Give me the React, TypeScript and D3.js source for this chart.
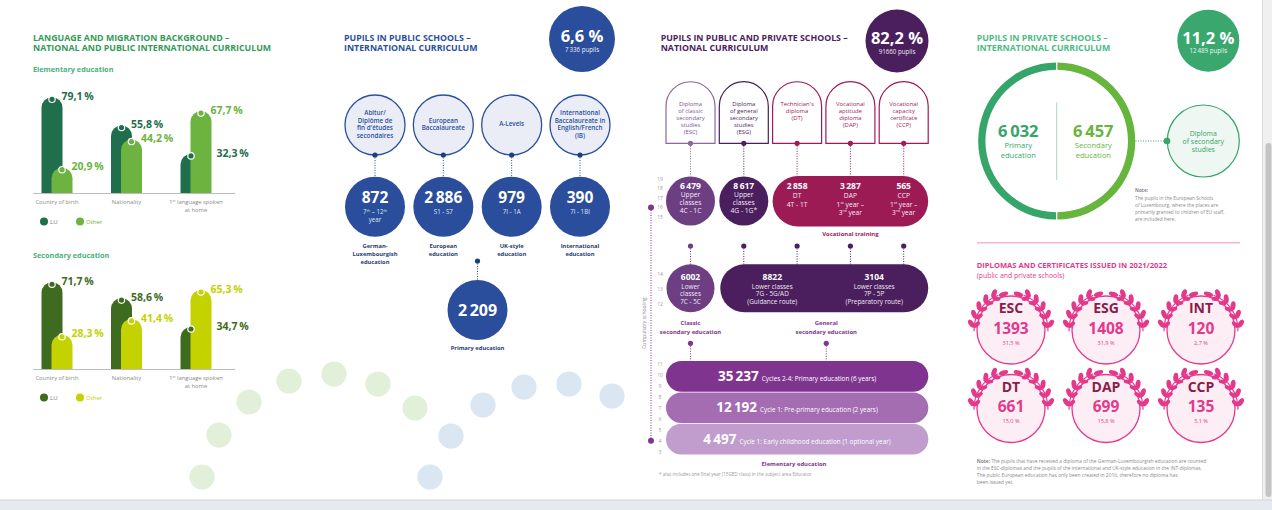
import React from "react";
import * as d3 from "d3";

const W = 1272;
const H = 510;
const FONT = "'Open Sans', 'DejaVu Sans', sans-serif";
const fmt = d3.formatLocale({ decimal: ",", thousands: "\u2009", grouping: [3], currency: ["", ""] }).format(",d");

// ---------- Left panel: language & migration background ----------
const barCategories = ["Country of birth", "Nationality", "1st language spoken at home"];
const barCategoryLines = [["Country of birth"], ["Nationality"], ["1^st language spoken", "at home"]];
const seriesNames = ["LU", "Other"];
const elemLU = [79.1, 55.8, 32.3];
const elemOther = [20.9, 44.2, 67.7];
const secLU = [71.7, 58.6, 34.7];
const secOther = [28.3, 41.4, 65.3];

// ---------- International curriculum (public) ----------
const intlShare = "6,6 %";
const intlTotal = 7336;
const intlDiplomas = [
  ["Abitur/", "Diplôme de", "fin d'études", "secondaires"],
  ["European", "Baccalaureate"],
  ["A-Levels"],
  ["International", "Baccalaureate in", "English/French", "(IB)"],
];
const intlPupils = [872, 2886, 979, 390];
const intlYears = [["7^th – 12^th", "year"], ["S1 - S7"], ["7I - 1A"], ["7I - 1BI"]];
const intlTracks = [
  ["German-", "Luxembourgish", "education"],
  ["European", "education"],
  ["UK-style", "education"],
  ["International", "education"],
];
const intlPrimary = 2209;

// ---------- National curriculum ----------
const natShare = "82,2 %";
const natTotal = "91660";
const natDiplomas = [
  ["Diploma", "of classic", "secondary", "studies", "(ESC)"],
  ["Diploma", "of general", "secondary", "studies", "(ESG)"],
  ["Technician's", "diploma", "(DT)"],
  ["Vocational", "aptitude", "diploma", "(DAP)"],
  ["Vocational", "capacity", "certificate", "(CCP)"],
];
const natUpper = [6479, 8617, 2858, 3287, 565];
const natUpperSub = [
  ["Upper", "classes", "4C - 1C"],
  ["Upper", "classes", "4G - 1G*"],
  ["DT", "4T - 1T"],
  ["DAP", "1^st year –", "3^rd year"],
  ["CCP", "1^st year –", "3^rd year"],
];
const natLower = ["6002", "8822", "3104"];
const natLowerSub = [
  ["Lower", "classes", "7C - 5C"],
  ["Lower classes", "7G - 5G/AD", "(Guidance route)"],
  ["Lower classes", "7P - 5P", "(Preparatory route)"],
];
const natElem = [35237, 12192, 4497];
const natElemLabels = [
  "Cycles 2-4: Primary education (6 years)",
  "Cycle 1: Pre-primary education (2 years)",
  "Cycle 1: Early childhood education (1 optional year)",
];
const agesUpper = [19, 18, 17, 16, 15];
const agesLower = [14, 13, 12];
const agesElem = [11, 10, 9, 8, 7, 6, 5, 4, 3];

// ---------- Private schools ----------
const privShare = "11,2 %";
const privTotal = 12489;
const privPupils = [6032, 6457];
const privLabels = [["Primary", "education"], ["Secondary", "education"]];

// ---------- Diplomas 2021/2022 ----------
const dipCodes = ["ESC", "ESG", "INT", "DT", "DAP", "CCP"];
const dipCounts = ["1393", "1408", "120", "661", "699", "135"];
const dipShares = ["31,5 %", "31,9 %", "2,7 %", "15,0 %", "15,8 %", "3,1 %"];

// decorative dots
const decorGreen = [[202, 477], [219, 435], [249, 402], [289, 381], [334, 374], [378, 384], [415, 408]];
const decorBlue = [[430, 477], [451, 436], [483, 405], [524, 387], [569, 384], [612, 396]];

function sup(s: string, fs: number) {
  if (!s.includes("^")) return s;
  const parts = s.split(/\^([a-z]+)/);
  return parts.map((p, i) =>
    i % 2 ? (
      <tspan key={i} dy={-fs * 0.35} fontSize={fs * 0.6}>{p}</tspan>
    ) : (
      <tspan key={i} dy={i ? fs * 0.35 : 0}>{p}</tspan>
    )
  );
}

function Lines({ x, y, lines, lh, fs, fill, fw = 400, anchor = "middle" }: any) {
  return (
    <text fontSize={fs} fill={fill} fontWeight={fw} textAnchor={anchor}>
      {lines.map((l: string, i: number) => (
        <tspan key={i} x={x} y={y + i * lh + fs * 0.36}>{sup(l, fs)}</tspan>
      ))}
    </text>
  );
}

function domePath(x0: number, w: number, top: number, bottom: number) {
  const r = w / 2;
  return `M${x0},${bottom}V${top + r}A${r},${r} 0 0 1 ${x0 + w},${top + r}V${bottom}Z`;
}

function BarBlock({ subtitle, subY, baseline, lu, other, cLU, cOther, subColor }: any) {
  const x = d3.scalePoint<string>().domain(barCategories).range([57, 196]);
  const y = d3.scaleLinear().domain([0, 100]).range([baseline, baseline - 121]);
  const bw = 21;
  const off = 5;
  const series = [
    { vals: lu, c: cLU, dx: -off },
    { vals: other, c: cOther, dx: off },
  ];
  return (
    <g>
      <text x={33} y={subY + 2.6} fontSize={7.3} fontWeight={700} fill={subColor}>{subtitle}</text>
      {series.map((s, si) =>
        barCategories.map((cat, i) => {
          const cx = (x(cat) as number) + s.dx;
          return <path key={si + "-" + i} d={domePath(cx - bw / 2, bw, y(s.vals[i]), baseline)} fill={s.c} />;
        })
      )}
      {series.map((s, si) =>
        barCategories.map((cat, i) => {
          const cx = (x(cat) as number) + s.dx;
          return <circle key={"d" + si + i} cx={cx} cy={y(s.vals[i]) + 2} r={3.2} fill={s.c} stroke="#fff" strokeWidth={1.2} />;
        })
      )}
      {series.map((s, si) =>
        barCategories.map((cat, i) => {
          const cx = (x(cat) as number) + s.dx;
          let lx = cx + bw / 2 - 1;
          if (si === 0 && lu[i] < other[i]) lx = (x(cat) as number) + off + bw / 2 + 5;
          const ly = y(s.vals[i]) - 1;
          return (
            <text key={"l" + si + i} x={lx} y={ly + 3.7} fontSize={10.5} fontWeight={700} fill={s.c}>
              {d3.format(".1f")(s.vals[i]).replace(".", ",") + "\u2009%"}
            </text>
          );
        })
      )}
      <line x1={33} x2={235} y1={baseline + 0.5} y2={baseline + 0.5} stroke="#bdbdbd" strokeWidth={1} />
      {barCategories.map((cat, i) => (
        <Lines key={"c" + i} x={x(cat)} y={baseline + 8.7} lines={barCategoryLines[i]} lh={8.3} fs={5.8} fill="#8a8a8a" />
      ))}
      {seriesNames.map((n, i) => (
        <g key={n}>
          <circle cx={44 + i * 36} cy={baseline + 28.5} r={4} fill={i ? cOther : cLU} />
          <text x={50 + i * 36} y={baseline + 30.6} fontSize={6} fill={i ? cOther : "#777"}>{n}</text>
        </g>
      ))}
    </g>
  );
}

function LeftPanel() {
  const tc = "#349a58";
  return (
    <g>
      <text x={33} y={40.7} fontSize={8.8} fontWeight={700} fill={tc}>LANGUAGE AND MIGRATION BACKGROUND –</text>
      <text x={33} y={51.3} fontSize={8.8} fontWeight={700} fill={tc}>NATIONAL AND PUBLIC INTERNATIONAL CURRICULUM</text>
      <BarBlock subtitle="Elementary education" subY={69} baseline={193} lu={elemLU} other={elemOther} cLU="#1f6e4c" cOther="#6cb33f" subColor="#4cb07c" />
      <BarBlock subtitle="Secondary education" subY={255} baseline={369} lu={secLU} other={secOther} cLU="#3e6b1f" cOther="#c4d300" subColor="#4cb07c" />
    </g>
  );
}

function Headline({ cx, cy, r, fill, big, small }: any) {
  return (
    <g>
      <circle cx={cx} cy={cy} r={r} fill={fill} />
      <text x={cx} y={cy + 3} textAnchor="middle" fontSize={16.5} fontWeight={700} fill="#fff">{big}</text>
      <text x={cx} y={cy + 12.5} textAnchor="middle" fontSize={6.2} fill="#fff" opacity={0.9}>{small}</text>
    </g>
  );
}

function IntlPanel() {
  const blue = "#2b4f9e";
  const dark = "#1f3c7c";
  const cols = d3.scalePoint<number>().domain(d3.range(4)).range([375, 580]);
  const topY = 125, botY = 206.7, r = 30;
  const primX = ((cols(1) as number) + (cols(2) as number)) / 2;
  return (
    <g>
      <text x={344} y={40.7} fontSize={8.8} fontWeight={700} fill={blue}>PUPILS IN PUBLIC SCHOOLS –</text>
      <text x={344} y={51.3} fontSize={8.8} fontWeight={700} fill={blue}>INTERNATIONAL CURRICULUM</text>
      <Headline cx={582} cy={39} r={33} fill="#2a4e9b" big={intlShare} small={fmt(intlTotal) + " pupils"} />
      {intlDiplomas.map((d, i) => {
        const cx = cols(i) as number;
        return (
          <g key={i}>
            <line x1={cx} x2={cx} y1={topY + r} y2={botY - r} stroke={blue} strokeWidth={1} strokeDasharray="1,1.5" />
            <circle cx={cx} cy={topY} r={r} fill="#eaedf6" stroke={blue} strokeWidth={1.3} />
            <Lines x={cx} y={topY - (d.length - 1) * 3.75 - 0.8} lines={d} lh={7.5} fs={6.3} fw={600} fill={blue} />
            <circle cx={cx} cy={topY + r} r={2.6} fill={dark} />
            <circle cx={cx} cy={botY} r={r} fill="#2a4e9b" />
            <text x={cx} y={botY - 3.4} textAnchor="middle" fontSize={15.5} fontWeight={700} fill="#fff">{fmt(intlPupils[i])}</text>
            <Lines x={cx} y={botY + 5} lines={intlYears[i]} lh={8.3} fs={6.2} fill="#dfe6f5" />
            <Lines x={cx} y={245.7} lines={intlTracks[i]} lh={8.3} fs={5.8} fw={700} fill={dark} />
          </g>
        );
      })}
      <line x1={primX} x2={primX} y1={261} y2={280} stroke={blue} strokeWidth={1} strokeDasharray="1,1.5" />
      <circle cx={primX} cy={261} r={2.6} fill={dark} />
      <circle cx={primX} cy={310} r={r} fill="#2a4e9b" />
      <text x={primX} y={315.7} textAnchor="middle" fontSize={16} fontWeight={700} fill="#fff">{fmt(intlPrimary)}</text>
      <text x={primX} y={349.8} textAnchor="middle" fontSize={5.8} fontWeight={700} fill={dark}>Primary education</text>
    </g>
  );
}

function NatPanel() {
  const titleC = "#4a2161";
  const cols = d3.scalePoint<number>().domain(d3.range(5)).range([690.5, 903.7]);
  const aw = 49;
  const archStroke = ["#8a68a0", "#4b1f5e", "#a0195a", "#a0195a", "#a0195a"];
  const archText = ["#7a5594", "#4b1f5e", "#a0195a", "#a0195a", "#a0195a"];
  const upperFill = ["#6d3f82", "#4b1f5e"];
  const pillFill = "#9c1b55";
  const lowerPurple = "#4b1f5e";
  const upY = 201, upR = 24.5;
  const pillX0 = (cols(2) as number) - aw / 2, pillX1 = (cols(4) as number) + aw / 2;
  const lowY = 288.3;
  const lowPillX0 = (cols(1) as number) - 23.5;
  const lowPillX1 = pillX1;
  const band = d3.scaleBand<number>().domain(d3.range(3)).range([361, 454.5]).paddingInner(0.02);
  const elemFills = ["#7f3590", "#a46cb1", "#c09dcc"];
  const ageUp = d3.scaleLinear().domain([19, 15]).range([179, 217]);
  const ageLo = d3.scaleLinear().domain([14, 12]).range([274.3, 304.3]);
  const ageEl = d3.scaleLinear().domain([11, 3]).range([364.3, 451.7]);
  const ageX = 660;
  return (
    <g>
      <text x={660.7} y={40.7} fontSize={8.8} fontWeight={700} fill={titleC}>PUPILS IN PUBLIC AND PRIVATE SCHOOLS –</text>
      <text x={660.7} y={51.3} fontSize={8.8} fontWeight={700} fill={titleC}>NATIONAL CURRICULUM</text>
      <Headline cx={897} cy={41} r={31.5} fill="#4b1f5e" big={natShare} small={natTotal + " pupils"} />

      {/* age axis */}
      <line x1={651} x2={651} y1={ageUp(16)} y2={ageEl(4)} stroke="#7f3590" strokeWidth={1} strokeDasharray="1,1.5" />
      <circle cx={651} cy={ageUp(16)} r={3} fill="#7f3590" />
      <circle cx={651} cy={ageEl(4)} r={3} fill="#7f3590" />
      <text transform="translate(646,323) rotate(-90)" textAnchor="middle" fontSize={5} fill="#8a8a8a">Compulsory schooling</text>
      {agesUpper.map((a) => <text key={"u" + a} x={ageX} y={ageUp(a) + 1.8} textAnchor="middle" fontSize={5} fill="#9a9a9a">{a}</text>)}
      {agesLower.map((a) => <text key={"l" + a} x={ageX} y={ageLo(a) + 1.8} textAnchor="middle" fontSize={5} fill="#9a9a9a">{a}</text>)}
      {agesElem.map((a) => <text key={"e" + a} x={ageX} y={ageEl(a) + 1.8} textAnchor="middle" fontSize={5} fill="#9a9a9a">{a}</text>)}

      {/* arches */}
      {natDiplomas.map((d, i) => {
        const cx = cols(i) as number;
        return (
          <g key={i}>
            <line x1={cx} x2={cx} y1={143.3} y2={176} stroke={archStroke[i]} strokeWidth={1} strokeDasharray="1,1.5" />
            <path d={domePath(cx - aw / 2, aw, 81.7, 143.3)} fill="#fff" stroke={archStroke[i]} strokeWidth={1.2} />
            <Lines x={cx} y={104} lines={d} lh={6.9} fs={5.9} fill={archText[i]} />
            <circle cx={cx} cy={143.3} r={2.6} fill={archStroke[i]} />
          </g>
        );
      })}

      {/* upper classes */}
      {[0, 1].map((i) => (
        <circle key={i} cx={cols(i) as number} cy={upY} r={upR} fill={upperFill[i]} />
      ))}
      <rect x={pillX0} y={176} width={pillX1 - pillX0} height={50.5} rx={25.25} fill={pillFill} />
      {natUpper.map((v, i) => {
        const cx = cols(i) as number;
        return (
          <g key={i}>
            <text x={cx} y={188.7} textAnchor="middle" fontSize={8.5} fontWeight={700} fill="#fff">{fmt(v)}</text>
            <Lines x={cx} y={i < 2 ? 194.6 : 196} lines={natUpperSub[i]} lh={8.1} fs={6.7} fill="#f3e8f3" />
          </g>
        );
      })}
      <text x={cols(3) as number} y={235.5} textAnchor="middle" fontSize={5.9} fontWeight={700} fill="#a0195a">Vocational training</text>

      {/* connectors to lower */}
      {d3.range(5).map((i) => {
        const cx = cols(i) as number;
        const c = i === 0 ? "#6d3f82" : lowerPurple;
        return (
          <g key={"m" + i}>
            <line x1={cx} x2={cx} y1={246} y2={265} stroke={c} strokeWidth={1} strokeDasharray="1,1.5" />
            <circle cx={cx} cy={246} r={2.6} fill={c} />
          </g>
        );
      })}

      {/* lower classes */}
      <circle cx={cols(0) as number} cy={lowY} r={24} fill="#6d3f82" />
      <rect x={lowPillX0} y={264.3} width={lowPillX1 - lowPillX0} height={48} rx={24} fill={lowerPurple} />
      {natLower.map((v, i) => {
        const cx = i === 0 ? (cols(0) as number) : lowPillX0 + (lowPillX1 - lowPillX0) * (i === 1 ? 0.25 : 0.74);
        return (
          <g key={i}>
            <text x={cx} y={279.6} textAnchor="middle" fontSize={8.5} fontWeight={700} fill="#fff">{v}</text>
            <Lines x={cx} y={286.2} lines={natLowerSub[i]} lh={7.6} fs={6.4} fill="#efe6f2" />
          </g>
        );
      })}
      <Lines x={cols(0) as number} y={323.3} lines={["Classic", "secondary education"]} lh={8.3} fs={5.9} fw={700} fill="#7f3590" />
      <Lines x={(lowPillX0 + lowPillX1) / 2 + 2} y={323.3} lines={["General", "secondary education"]} lh={8.3} fs={5.9} fw={700} fill="#7f3590" />
      {[cols(0) as number, (lowPillX0 + lowPillX1) / 2 + 2].map((cx, i) => (
        <g key={"cd" + i}>
          <line x1={cx} x2={cx} y1={343.3} y2={361} stroke="#7f3590" strokeWidth={1} strokeDasharray="1,1.5" />
          <circle cx={cx} cy={343.3} r={2.6} fill="#7f3590" />
        </g>
      ))}

      {/* elementary */}
      {natElem.map((v, i) => {
        const y0 = band(i) as number;
        const h = band.bandwidth();
        return (
          <g key={"el" + i}>
            <rect x={666} y={y0} width={262.3} height={h} rx={h / 2} fill={elemFills[i]} />
            <text x={797} y={y0 + h / 2 + 4.7} textAnchor="middle" fill="#fff">
              <tspan fontSize={13.5} fontWeight={700}>{fmt(v)}</tspan>
              <tspan fontSize={6.4} dx={3}>{natElemLabels[i]}</tspan>
            </text>
          </g>
        );
      })}
      <text x={794} y={466} textAnchor="middle" fontSize={5.9} fontWeight={700} fill="#7f3590">Elementary education</text>
      <text x={659} y={476} fontSize={4.6} fill="#9a9a9a">* also includes one final year (15GED class) in the subject area Educator</text>
    </g>
  );
}

function PrivPanel() {
  const tc = "#4cbb84";
  const cL = "#35a56a";
  const cR = "#66b53c";
  const cx = 1056.7, cy = 141;
  const arc = d3.arc<any>().innerRadius(71.3).outerRadius(78.6).padAngle(0.012);
  const pie = d3.pie<number>().sort(null).value(() => 1).startAngle(Math.PI * 2).endAngle(0);
  const slices = pie(privPupils);
  const dcx = 1203.3;
  return (
    <g>
      <text x={976.7} y={40.7} fontSize={8.8} fontWeight={700} fill={tc}>PUPILS IN PRIVATE SCHOOLS –</text>
      <text x={976.7} y={51.3} fontSize={8.8} fontWeight={700} fill={tc}>INTERNATIONAL CURRICULUM</text>
      <Headline cx={1208.3} cy={40.7} r={31} fill="#3aa86e" big={privShare} small={fmt(privTotal) + " pupils"} />
      <g transform={`translate(${cx},${cy})`}>
        {slices.map((s, i) => (
          <path key={i} d={arc(s) as string} fill={i === 0 ? cL : cR} />
        ))}
      </g>
      <line x1={cx} x2={cx} y1={102.3} y2={180} stroke="#a6d9bd" strokeWidth={1} />
      {privPupils.map((v, i) => {
        const x = i === 0 ? 1018.3 : 1093.3;
        const c = i === 0 ? cL : cR;
        return (
          <g key={i}>
            <text x={x} y={137.3} textAnchor="middle" fontSize={16.5} fontWeight={700} fill={c}>{fmt(v)}</text>
            <Lines x={x} y={145.7} lines={privLabels[i]} lh={10} fs={7.6} fill={c} />
          </g>
        );
      })}
      <line x1={1135.5} x2={1166} y1={cy} y2={cy} stroke={cL} strokeWidth={1} strokeDasharray="1,1.5" />
      <circle cx={dcx} cy={cy} r={36} fill="#eef7f1" stroke={cL} strokeWidth={1.2} />
      <circle cx={1167} cy={cy} r={3.3} fill={cL} />
      <Lines x={dcx} y={133.3} lines={["Diploma", "of secondary", "studies"]} lh={7.9} fs={6.9} fill={cL} />
      <text fontSize={4.8} fill="#8a8a8a">
        <tspan x={1135} y={192.4} fontWeight={700}>Note:</tspan>
        <tspan x={1135} y={200}>The pupils in the European Schools</tspan>
        <tspan x={1135} y={207}>of Luxembourg, where the places are</tspan>
        <tspan x={1135} y={214}>primarily granted to children of EU staff,</tspan>
        <tspan x={1135} y={221}>are included here.</tspan>
      </text>
    </g>
  );
}

function Laurel({ cx, cy, R, color }: any) {
  const phis = [-86, -72, -58, -44, -30];
  const sr = R + 3;
  const leaves: any[] = [];
  phis.forEach((p, k) => {
    const rad = (p * Math.PI) / 180;
    const px = sr * Math.sin(rad);
    const py = -sr * Math.cos(rad);
    [[-40, 4.6, 2.5], [40, 4.0, 2.1]].forEach(([da, len, wid], j) => {
      const a = p + da;
      const ar = (a * Math.PI) / 180;
      const ex = px + Math.cos(ar) * len;
      const ey = py + Math.sin(ar) * len;
      leaves.push(<ellipse key={k + "-" + j} cx={ex} cy={ey} rx={len} ry={wid} transform={`rotate(${a},${ex},${ey})`} fill={color} />);
    });
  });
  const tip = -18;
  const tr = (tip * Math.PI) / 180;
  const tx = sr * Math.sin(tr), ty = -sr * Math.cos(tr);
  const stem = d3.arc()({ innerRadius: sr - 0.6, outerRadius: sr + 0.6, startAngle: (-92 * Math.PI) / 180, endAngle: (-20 * Math.PI) / 180 } as any) as string;
  const branch = (
    <g>
      <path d={stem} fill={color} />
      {leaves}
      <ellipse cx={tx + 4} cy={ty - 0.5} rx={4.8} ry={2.3} transform={`rotate(${tip},${tx + 4},${ty - 0.5})`} fill={color} />
    </g>
  );
  return (
    <g transform={`translate(${cx},${cy})`}>
      {branch}
      <g transform="scale(-1,1)">{branch}</g>
    </g>
  );
}

function DiplomaPanel() {
  const pink = "#e4398b";
  const xs = d3.scalePoint<number>().domain([0, 1, 2]).range([1011, 1201]);
  const ys = d3.scalePoint<number>().domain([0, 1]).range([330, 408.5]);
  const R = 34;
  return (
    <g>
      <line x1={977} x2={1240} y1={242.7} y2={242.7} stroke="#f6b4d3" strokeWidth={1.6} />
      <text x={976.7} y={268} fontSize={7.6} fontWeight={700} fill={pink}>DIPLOMAS AND CERTIFICATES ISSUED IN 2021/2022</text>
      <text x={976.7} y={277.8} fontSize={6.9} fill={pink}>(public and private schools)</text>
      {dipCodes.map((c, i) => {
        const cx = xs(i % 3) as number;
        const cy = ys(Math.floor(i / 3)) as number;
        return (
          <g key={c}>
            <circle cx={cx} cy={cy} r={R} fill="#fdeef6" stroke={pink} strokeWidth={1.3} />
            <Laurel cx={cx} cy={cy} R={R} color={pink} />
            <text x={cx} y={cy - 16.8} textAnchor="middle" fontSize={14} fontWeight={700} fill="#8b1d4c">{c}</text>
            <text x={cx} y={cy + 3.8} textAnchor="middle" fontSize={15.5} fontWeight={700} fill={pink}>{dipCounts[i]}</text>
            <text x={cx} y={cy + 14.5} textAnchor="middle" fontSize={5.6} fill={pink}>{dipShares[i]}</text>
          </g>
        );
      })}
      <text fontSize={4.9} fill="#8a8a8a">
        <tspan x={976.7} y={462.8}><tspan fontWeight={700}>Note:</tspan> The pupils that have received a diploma of the German-Luxembourgish education are counted</tspan>
        <tspan x={976.7} y={469.5}>in the ESC-diplomas and the pupils of the international and UK-style education in the INT-diplomas.</tspan>
        <tspan x={976.7} y={476.5}>The public European education has only been created in 2016, therefore no diploma has</tspan>
        <tspan x={976.7} y={483.5}>been issued yet.</tspan>
      </text>
    </g>
  );
}

export default function App() {
  return (
    <svg width={W} height={H} style={{ position: "absolute", left: 0, top: 0 }} fontFamily={FONT}>
      <rect width={W} height={H} fill="#fff" />
      {decorGreen.map(([x, y], i) => <circle key={"g" + i} cx={x} cy={y} r={12.6} fill="#e2f0d9" />)}
      {decorBlue.map(([x, y], i) => <circle key={"b" + i} cx={x} cy={y} r={12.6} fill="#dae6f2" />)}
      <LeftPanel />
      <IntlPanel />
      <NatPanel />
      <PrivPanel />
      <DiplomaPanel />
      {/* page chrome */}
      <rect x={1262} y={0} width={10} height={H} fill="#f0f0f0" />
      <line x1={1262.5} x2={1262.5} y1={0} y2={H} stroke="#dcdcdc" />
      <rect x={1265.5} y={143} width={6} height={354} rx={3} fill="#c4c4c4" />
      <rect x={0} y={500} width={W} height={10} fill="#e6eaef" />
      <line x1={0} x2={W} y1={500} y2={500} stroke="#cfd4da" />
    </svg>
  );
}
